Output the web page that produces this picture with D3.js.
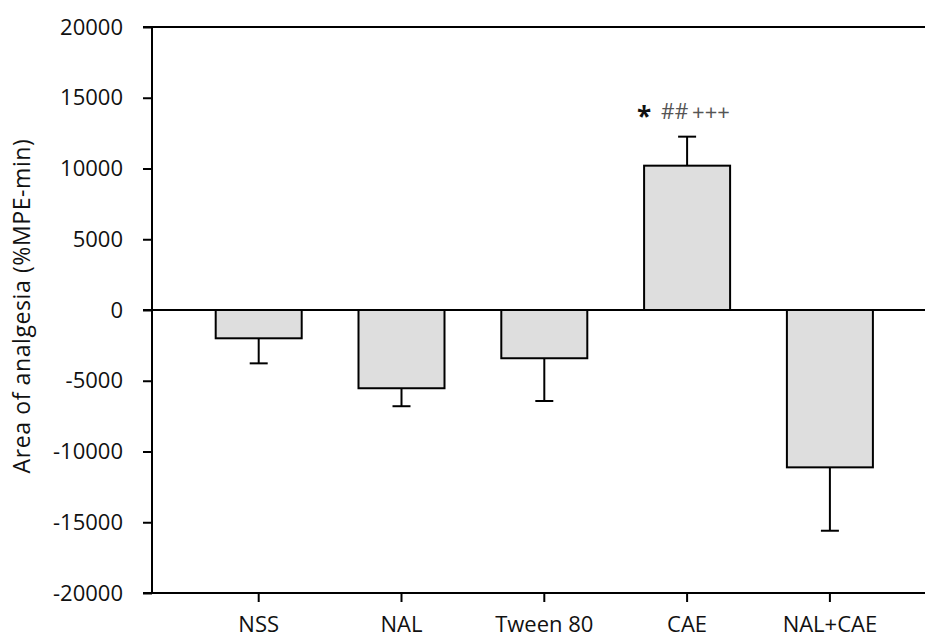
<!DOCTYPE html>
<html>
<head>
<meta charset="utf-8">
<script src="https://cdn.jsdelivr.net/npm/d3@7"></script>
<style>
  html, body { margin: 0; padding: 0; background: #fff; }
  svg { display: block; }
  text { font-family: "Open Sans", "Noto Sans", sans-serif; }
</style>
</head>
<body>
<svg id="chart" width="925" height="637"></svg>
<script>
// Treatment groups and their mean area of analgesia (%MPE-min) with SEM
const categories = ["NSS", "NAL", "Tween 80", "CAE", "NAL+CAE"];
const means = [-2000, -5530, -3410, 10200, -11120];
const sems = [1770, 1270, 3020, 2050, 4480];
const yTicks = [-20000, -15000, -10000, -5000, 0, 5000, 10000, 15000, 20000];
const significance = [
  { group: "CAE", star: "*", hash: "##", plus: "+++" }
];

const svg = d3.select("#chart");
const axisLeftX = 152, plotTop = 27, plotBottom = 593, plotRight = 925;
const barWidth = 86;

const y = d3.scaleLinear().domain([-20000, 20000]).range([plotBottom, plotTop]);
const x = d3.scaleBand().domain(categories).range([187.3, 901.3]).padding(0);
const offset = (x.bandwidth() - barWidth) / 2;

// Y axis with outward ticks; plain hyphen for negatives
const yAxis = d3.axisLeft(y).tickValues(yTicks).tickSize(9).tickPadding(20).tickFormat(d => String(d));
const gy = svg.append("g").attr("transform", `translate(${axisLeftX},0)`).call(yAxis);
gy.select(".domain").remove();
gy.selectAll(".tick line").attr("stroke", "#000").attr("stroke-width", 2);
gy.selectAll(".tick text").attr("font-size", 22).attr("fill", "#111");

// X axis ticks below the bottom frame line
const xAxis = d3.axisBottom(x).tickSize(9).tickPadding(14);
const gx = svg.append("g").attr("transform", `translate(0,${plotBottom})`).call(xAxis);
gx.select(".domain").remove();
gx.selectAll(".tick line").attr("stroke", "#000").attr("stroke-width", 2);
gx.selectAll(".tick text").attr("font-size", 22).attr("fill", "#111");

// Frame lines: left axis, top, bottom, and zero line
const frame = svg.append("g").attr("stroke", "#000").attr("stroke-width", 2);
frame.append("line").attr("x1", axisLeftX).attr("x2", axisLeftX).attr("y1", y(20000)).attr("y2", y(-20000));
[20000, -20000, 0].forEach(v => {
  frame.append("line").attr("x1", axisLeftX - 9).attr("x2", plotRight).attr("y1", y(v)).attr("y2", y(v));
});

const data = categories.map((c, i) => ({ c, m: means[i], s: sems[i] }));

// Error bars (one-sided, away from zero)
const capW = 18;
const eb = svg.append("g").attr("stroke", "#000").attr("stroke-width", 2);
data.forEach(d => {
  const cx = x(d.c) + x.bandwidth() / 2;
  const end = d.m >= 0 ? d.m + d.s : d.m - d.s;
  eb.append("line").attr("x1", cx).attr("x2", cx).attr("y1", y(d.m)).attr("y2", y(end));
  eb.append("line").attr("x1", cx - capW / 2).attr("x2", cx + capW / 2).attr("y1", y(end)).attr("y2", y(end));
});

// Bars
svg.append("g").selectAll("rect").data(data).join("rect")
  .attr("x", d => x(d.c) + offset)
  .attr("width", barWidth)
  .attr("y", d => y(Math.max(0, d.m)))
  .attr("height", d => Math.abs(y(d.m) - y(0)))
  .attr("fill", "#dedede")
  .attr("stroke", "#000")
  .attr("stroke-width", 2);

// Significance markers above bars
significance.forEach(s => {
  const d = data.find(e => e.c === s.group);
  const cx = x(d.c) + x.bandwidth() / 2;
  const base = y(d.m + d.s) - 18;
  svg.append("text").attr("x", cx - 43).attr("y", base + 7).attr("text-anchor", "middle")
    .attr("font-family", "DejaVu Sans, sans-serif").attr("font-weight", "bold")
    .attr("font-size", 26).attr("fill", "#111").text(s.star);
  svg.append("text").attr("x", cx - 26).attr("y", base)
    .attr("font-family", "Liberation Serif, serif").attr("font-size", 21)
    .attr("fill", "#555").text(s.hash);
  svg.append("text").attr("x", cx + 5).attr("y", base + 1)
    .attr("font-family", "Liberation Serif, serif")
    .attr("font-size", 22).attr("fill", "#555").text(s.plus);
});

// Y axis title
svg.append("text")
  .attr("transform", `translate(30,306) rotate(-90)`)
  .attr("text-anchor", "middle")
  .attr("font-size", 23)
  .attr("letter-spacing", 0.6)
  .attr("fill", "#111")
  .text("Area of analgesia (%MPE-min)");
</script>
</body>
</html>
